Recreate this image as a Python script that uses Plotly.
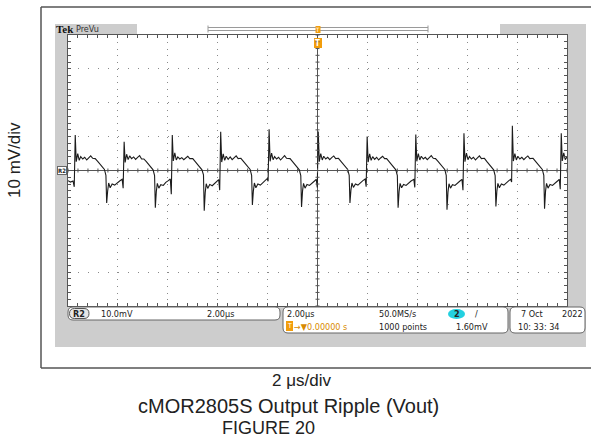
import plotly.graph_objects as go

W, H = 591, 443

# Vout ripple trace (time in us, ripple in mV)
time_us = [
    -10.00, -9.90, -9.80, -9.75,
    -9.71, -9.67, -9.61, -9.55, -9.49, -9.41, -9.33, -9.25, -9.17, -9.09, -9.01, -8.91, -8.81, -8.71, -8.62, -8.54, -8.48,
    -8.45, -8.41, -8.37, -8.31, -8.23, -8.13, -8.03, -7.93, -7.83, -7.79,
    -7.75, -7.71, -7.65, -7.59, -7.53, -7.45, -7.37, -7.29, -7.21, -7.13, -7.05, -6.96, -6.86, -6.76, -6.67, -6.59, -6.53,
    -6.50, -6.46, -6.42, -6.36, -6.28, -6.18, -6.08, -5.98, -5.90, -5.86,
    -5.82, -5.78, -5.72, -5.66, -5.60, -5.52, -5.44, -5.36, -5.28, -5.20, -5.12, -5.00, -4.90, -4.80, -4.71, -4.63, -4.57,
    -4.54, -4.50, -4.46, -4.40, -4.32, -4.22, -4.12, -4.02, -3.96, -3.92,
    -3.88, -3.84, -3.78, -3.72, -3.66, -3.58, -3.50, -3.42, -3.34, -3.26, -3.18, -3.07, -2.97, -2.87, -2.78, -2.70, -2.64,
    -2.61, -2.57, -2.53, -2.47, -2.39, -2.29, -2.19, -2.09, -2.02, -1.98,
    -1.94, -1.90, -1.84, -1.78, -1.72, -1.64, -1.56, -1.48, -1.40, -1.32, -1.24, -1.10, -1.00, -0.90, -0.81, -0.73, -0.67,
    -0.64, -0.60, -0.56, -0.50, -0.42, -0.32, -0.22, -0.12, -0.05, -0.01,
    0.03, 0.07, 0.13, 0.19, 0.25, 0.33, 0.41, 0.49, 0.57, 0.65, 0.73, 0.84, 0.94, 1.04, 1.13, 1.21, 1.27,
    1.30, 1.34, 1.38, 1.44, 1.52, 1.62, 1.72, 1.82, 1.91, 1.95,
    1.99, 2.03, 2.09, 2.15, 2.21, 2.29, 2.37, 2.45, 2.53, 2.61, 2.69, 2.77, 2.87, 2.97, 3.06, 3.14, 3.20,
    3.23, 3.27, 3.31, 3.37, 3.45, 3.55, 3.65, 3.75, 3.86, 3.90,
    3.94, 3.98, 4.04, 4.10, 4.16, 4.24, 4.32, 4.40, 4.48, 4.56, 4.64, 4.73, 4.83, 4.93, 5.02, 5.10, 5.16,
    5.19, 5.23, 5.27, 5.33, 5.41, 5.51, 5.61, 5.71, 5.79, 5.83,
    5.87, 5.91, 5.97, 6.03, 6.09, 6.17, 6.25, 6.33, 6.41, 6.49, 6.57, 6.69, 6.79, 6.89, 6.98, 7.06, 7.12,
    7.15, 7.19, 7.23, 7.29, 7.37, 7.47, 7.57, 7.67, 7.74, 7.78,
    7.81, 7.85, 7.91, 7.97, 8.03, 8.11, 8.19, 8.27, 8.35, 8.43, 8.51, 8.64, 8.74, 8.84, 8.93, 9.01, 9.07,
    9.10, 9.14, 9.18, 9.24, 9.32, 9.42, 9.52, 9.62, 9.69, 9.73,
    9.77, 9.81, 9.87, 9.93, 10.00,
]
ripple_mv = [
    -3.0, -3.4, -3.1, -4.8,
    10.5, 2.6, 5.0, 3.0, 4.1, 3.4, 3.9, 3.1, 3.7, 4.3, 3.6, 3.5, 2.7, 1.9, 1.1, 0.3, -1.4,
    -9.6, -6.0, -3.7, -5.1, -4.0, -4.3, -3.6, -3.1, -2.6, -5.2,
    8.5, 2.4, 4.8, 3.2, 4.3, 3.5, 4.0, 3.3, 3.9, 4.4, 3.4, 3.4, 2.6, 1.8, 1.0, 0.2, -1.5,
    -11.0, -6.2, -3.8, -5.2, -4.2, -4.4, -3.5, -3.0, -2.5, -7.0,
    10.5, 2.8, 5.2, 3.1, 4.0, 3.4, 3.8, 3.2, 3.6, 4.2, 3.5, 3.5, 2.6, 1.8, 1.1, 0.2, -1.3,
    -11.9, -6.5, -3.9, -5.3, -4.1, -4.5, -3.7, -3.1, -2.7, -5.8,
    11.4, 2.5, 4.9, 3.0, 4.2, 3.3, 4.0, 3.2, 3.8, 4.3, 3.5, 3.6, 2.7, 1.9, 1.0, 0.3, -1.4,
    -10.2, -6.0, -3.7, -5.1, -4.0, -4.3, -3.5, -3.0, -2.4, -3.2,
    12.2, 2.7, 5.1, 3.2, 4.1, 3.4, 3.9, 3.1, 3.7, 4.4, 3.6, 3.5, 2.6, 1.8, 1.0, 0.2, -1.5,
    -10.8, -6.1, -3.8, -5.2, -4.1, -4.4, -3.6, -3.1, -2.6, -5.0,
    11.5, 2.6, 5.0, 3.1, 4.2, 3.4, 3.9, 3.2, 3.8, 4.3, 3.5, 3.6, 2.7, 1.9, 1.1, 0.3, -1.4,
    -9.6, -5.8, -3.7, -5.0, -4.0, -4.3, -3.5, -3.0, -2.5, -4.8,
    10.0, 2.5, 4.9, 3.0, 4.1, 3.3, 3.9, 3.1, 3.7, 4.2, 3.5, 3.5, 2.6, 1.8, 1.0, 0.2, -1.5,
    -11.0, -6.2, -3.8, -5.1, -4.1, -4.4, -3.6, -3.1, -2.6, -5.0,
    10.6, 2.7, 5.0, 3.1, 4.2, 3.4, 3.9, 3.2, 3.8, 4.4, 3.6, 3.5, 2.7, 1.9, 1.0, 0.3, -1.4,
    -11.6, -6.3, -3.9, -5.2, -4.2, -4.4, -3.6, -3.1, -2.6, -5.8,
    11.0, 2.6, 5.1, 3.2, 4.1, 3.4, 3.9, 3.1, 3.7, 4.3, 3.5, 3.6, 2.6, 1.8, 1.0, 0.2, -1.5,
    -10.6, -6.0, -3.8, -5.1, -4.0, -4.3, -3.5, -3.0, -2.6, -3.4,
    13.2, 2.8, 5.0, 3.1, 4.2, 3.4, 3.9, 3.2, 3.8, 4.3, 3.5, 3.6, 2.7, 1.9, 1.1, 0.3, -1.4,
    -11.3, -6.1, -3.8, -5.2, -4.1, -4.4, -3.6, -3.1, -2.6, -5.5,
    11.0, 2.8, 5.2, 3.2, 4.0,
]

# scope readouts
ch_scale = "10.0mV"
time_scale = "2.00µs"
sample_rate = "50.0MS/s"
record_len = "1000 points"
trig_level = "1.60mV"
trig_pos = "→▼0.00000 s"
scope_date = "7 Oct"
scope_year = "2022"
scope_time = "10: 33: 34"

y_label = "10 mV/div"
x_label = "2 μs/div"
caption = "cMOR2805S Output Ripple (Vout)"
fig_no = "FIGURE 20"

SCOPE = "DejaVu Sans Condensed, Liberation Sans Narrow, DejaVu Sans"
OUTER = "Liberation Sans, Arial, sans-serif"
ORANGE = "#f29d0c"


def px(x):
    return x / W


def py(y):
    return 1 - y / H


fig = go.Figure()
fig.add_trace(go.Scatter(x=time_us, y=ripple_mv, mode="lines",
                         line=dict(color="#1c1c1c", width=1.1), hoverinfo="skip"))

shapes = []


def rect(x0, y0, x1, y1, fill, lc=None, lw=0, layer="below"):
    shapes.append(dict(type="rect", xref="paper", yref="paper", x0=px(x0), x1=px(x1), y0=py(y1), y1=py(y0),
                       fillcolor=fill, line=dict(color=lc or fill, width=lw), layer=layer))


def line(x0, y0, x1, y1, color, w=1, layer="above"):
    shapes.append(dict(type="line", xref="paper", yref="paper", x0=px(x0), x1=px(x1), y0=py(y0), y1=py(y1),
                       line=dict(color=color, width=w), layer=layer))


def rrect(x0, y0, x1, y1, r, fill, lc, lw=1, layer="above"):
    p = (f"M{px(x0 + r)},{py(y0)} L{px(x1 - r)},{py(y0)} Q{px(x1)},{py(y0)} {px(x1)},{py(y0 + r)} "
         f"L{px(x1)},{py(y1 - r)} Q{px(x1)},{py(y1)} {px(x1 - r)},{py(y1)} "
         f"L{px(x0 + r)},{py(y1)} Q{px(x0)},{py(y1)} {px(x0)},{py(y1 - r)} "
         f"L{px(x0)},{py(y0 + r)} Q{px(x0)},{py(y0)} {px(x0 + r)},{py(y0)} Z")
    shapes.append(dict(type="path", xref="paper", yref="paper", path=p, fillcolor=fill,
                       line=dict(color=lc, width=lw), layer=layer))


def text(x, y, s, size=9, color="#222", anchor="left", family=SCOPE, **kw):
    fig.add_annotation(x=px(x), y=py(y), xref="paper", yref="paper", text=s, showarrow=False,
                       xanchor=anchor, yanchor="middle", font=dict(family=family, size=size, color=color), **kw)


# outer figure frame
line(41, 7, 591, 7, "#555", 1.5)
line(41, 368, 591, 368, "#555", 1.5)
line(41, 7, 41, 368, "#555", 1.5)

# scope screen
rect(55, 24, 586, 347, "#cdcdcd")
rect(68, 35, 567, 306, "#ffffff")

# header / record view
rect(137, 24, 500, 34, "#ffffff")
line(208, 27.5, 428, 27.5, "#9a9a9a", 1)
line(208, 30.5, 428, 30.5, "#9a9a9a", 1)
line(208, 25.5, 208, 32.5, "#9a9a9a", 1)
line(428, 25.5, 428, 32.5, "#9a9a9a", 1)
rect(315.5, 26, 320.5, 33, ORANGE, layer="above")
rect(314, 38, 322, 48, ORANGE, layer="above")

# center-line ticks
for i in range(51):
    t = -10 + 0.4 * i
    shapes.append(dict(type="line", xref="x", yref="y", x0=t, x1=t, y0=-0.6, y1=0.6,
                       line=dict(color="#555", width=1)))
for i in range(41):
    v = -40 + 2 * i
    shapes.append(dict(type="line", xref="x", yref="y", x0=-0.08, x1=0.08, y0=v, y1=v,
                       line=dict(color="#555", width=1)))

# bottom readout boxes
rrect(68, 307, 280, 320, 5, "#ffffff", "#666")
rrect(69.5, 308.5, 89, 318.5, 5, "#e6e6e6", "#555")
rrect(283, 307, 508, 333, 5, "#ffffff", "#666")
rrect(510, 307, 585, 333, 5, "#ffffff", "#666")
shapes.append(dict(type="circle", xref="paper", yref="paper", x0=px(448), x1=px(465), y0=py(319), y1=py(309),
                   fillcolor="#22d0e0", line=dict(color="#22d0e0", width=0), layer="above"))
rect(286, 321, 293, 331, ORANGE, layer="above")

fig.update_layout(shapes=shapes)

# header text
text(54, 29, "<b>Tek</b>", size=11, color="#111", family="Liberation Serif, DejaVu Serif")
text(74, 29, "PreVu", size=9, color="#333")
text(318, 29.5, "T", size=6, color="#fff", anchor="center")
text(318, 43, "<b>T</b>", size=8, color="#fff", anchor="center")
text(61.5, 170.5, "<b>R2</b>", size=6, color="#222", anchor="center",
     bgcolor="#fff", bordercolor="#666", borderwidth=1, borderpad=0)

# readouts
text(79.3, 313.5, "<b>R2</b>", size=9, anchor="center")
text(99, 313.5, ch_scale)
text(205, 313.5, time_scale)
text(285, 314, time_scale)
text(377, 314, sample_rate)
text(456.5, 314, "<b>2</b>", size=9, anchor="center")
text(476, 314, "/", size=9, anchor="center")
text(289.5, 326, "T", size=7, color="#fff", anchor="center")
text(292, 326.5, trig_pos, color="#d88a00")
text(377, 326.5, record_len)
text(454, 326.5, trig_level)
text(519, 314, scope_date)
text(560, 314, scope_year)
text(516, 326.5, scope_time)

# outer labels
text(15, 160, y_label, size=17, color="#222", anchor="center", family=OUTER, textangle=-90)
text(301, 380, x_label, size=17, color="#222", anchor="center", family=OUTER)
text(288, 406, caption, size=20, color="#222", anchor="center", family=OUTER)
text(268, 428, fig_no, size=18, color="#222", anchor="center", family=OUTER)

fig.update_xaxes(domain=[px(68), px(567)], range=[-10, 10], dtick=2, showticklabels=False,
                 showgrid=True, gridcolor="#8a8a8a", gridwidth=1, griddash="1px,5.78px",
                 showline=True, linecolor="#555", linewidth=1, mirror="allticks",
                 ticks="inside", ticklen=3, tickcolor="#555",
                 minor=dict(dtick=0.4, ticks="inside", ticklen=3, tickcolor="#555", showgrid=False),
                 zeroline=True, zerolinecolor="#555", zerolinewidth=1, fixedrange=True)
fig.update_yaxes(domain=[py(306), py(35)], range=[-40, 40], dtick=10, showticklabels=False,
                 showgrid=True, gridcolor="#8a8a8a", gridwidth=1, griddash="1px,9px",
                 showline=True, linecolor="#555", linewidth=1, mirror="allticks",
                 ticks="inside", ticklen=3, tickcolor="#555",
                 minor=dict(dtick=2, ticks="inside", ticklen=3, tickcolor="#555", showgrid=False),
                 zeroline=True, zerolinecolor="#555", zerolinewidth=1, fixedrange=True)

fig.update_layout(width=W, height=H, autosize=False, margin=dict(l=0, r=0, t=0, b=0),
                  paper_bgcolor="#ffffff", plot_bgcolor="#ffffff", showlegend=False)

# page body has a default 8px margin; drop it so the figure sits at the window origin
fig.write_html("out.html", config={"displayModeBar": False},
               post_script="document.body.style.margin='0';")
